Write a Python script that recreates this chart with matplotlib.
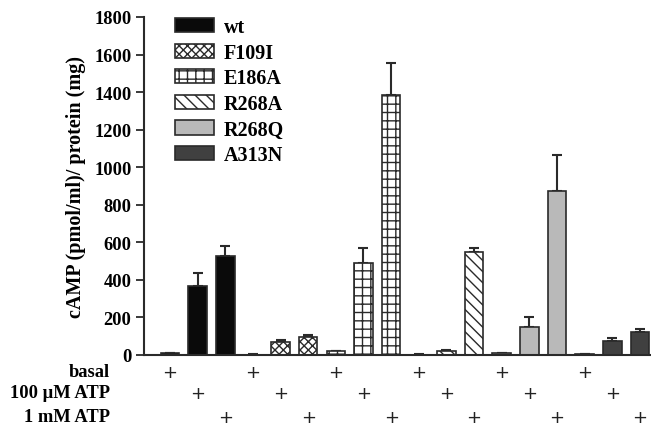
import numpy as np
import matplotlib
matplotlib.use("Agg")
import matplotlib.pyplot as plt
from matplotlib.patches import Patch
import matplotlib.transforms as mtransforms

# data
mutants = ["wt", "F109I", "E186A", "R268A", "R268Q", "A313N"]
conditions = ["basal", "100 \u00b5M ATP", "1 mM ATP"]
means = [
    [10, 368, 528],     # wt
    [2, 70, 97],        # F109I
    [20, 490, 1385],    # E186A
    [2, 20, 548],       # R268A
    [8, 150, 875],      # R268Q
    [3, 76, 123],       # A313N
]
errors = [
    [3, 68, 52],
    [1, 10, 11],
    [3, 82, 170],
    [1, 7, 22],
    [2, 53, 190],
    [1, 14, 16],
]

colors = ["#0a0a0a", "white", "white", "white", "#b9b9b9", "#404040"]
hatches = [None, "xxxx", "++", "\\\\\\", None, None]
edge = "#2a2a2a"

plt.rcParams["font.family"] = ["Liberation Serif", "DejaVu Serif"]
plt.rcParams["font.weight"] = "bold"
plt.rcParams["hatch.linewidth"] = 1.0
plt.rcParams["hatch.color"] = edge

fig = plt.figure(figsize=(6.51, 4.27), dpi=100)
ax = fig.add_axes([144 / 651, 1 - 356 / 427, 1 - 144 / 651, (356 - 18) / 427])

width = 0.67
for g in range(len(mutants)):
    xs = np.arange(3) + 3 * g
    lower = [0] * 3
    ax.bar(xs, means[g], width, color=colors[g], hatch=hatches[g],
           edgecolor=edge, linewidth=1.2, zorder=2)
    ax.errorbar(xs, means[g], yerr=[lower, errors[g]], fmt="none",
                ecolor=edge, elinewidth=1.5, capsize=3.5, capthick=1.5, zorder=1)

ax.set_xlim(-0.94, 17.4)
ax.set_ylim(0, 1800)
ax.set_yticks(np.arange(0, 1801, 200))
ax.tick_params(axis="y", labelsize=13.3, length=6, width=1.3, color=edge, pad=3)
ax.tick_params(axis="x", bottom=False, labelbottom=False)
for s in ["top", "right"]:
    ax.spines[s].set_visible(False)
for s in ["left", "bottom"]:
    ax.spines[s].set_linewidth(1.5)
    ax.spines[s].set_color(edge)
for lab in ax.get_yticklabels():
    lab.set_fontweight("bold")

ax.set_ylabel("cAMP (pmol/ml)/ protein (mg)", fontsize=14.5, fontweight="bold", labelpad=6)

handles = [Patch(facecolor=colors[i], edgecolor=edge, hatch=hatches[i], linewidth=1.2)
           for i in range(len(mutants))]
ax.legend(handles, mutants, loc="upper left", bbox_to_anchor=(0.062, 1.0),
          frameon=False, handlelength=1.9, handleheight=0.7,
          labelspacing=0.28, handletextpad=0.5, borderpad=0, borderaxespad=0,
          prop={"weight": "bold", "size": 14.5})

# treatment table below the axis
trans = mtransforms.blended_transform_factory(ax.transData, fig.transFigure)
row_y = [1 - 373 / 427, 1 - 394 / 427, 1 - 418 / 427]
for r in range(3):
    fig.text(110 / 651, row_y[r], conditions[r], ha="right", va="center",
             fontsize=13.3, fontweight="bold")
    for g in range(len(mutants)):
        ax.text(3 * g + r, row_y[r], "+", transform=trans, ha="center", va="center",
                fontsize=13, fontweight="normal", family="DejaVu Sans", color="#222222")

fig.savefig("out.png", dpi=100)
